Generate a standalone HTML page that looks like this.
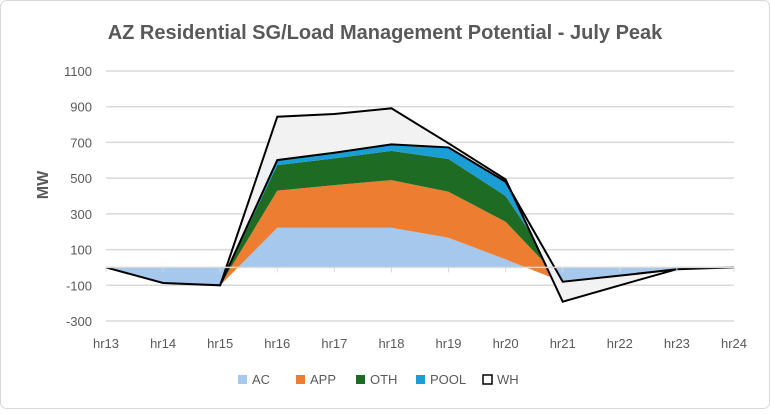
<!DOCTYPE html>
<html><head><meta charset="utf-8"><style>
body{margin:0;background:#fff;font-family:"Liberation Sans",sans-serif}
</style></head><body>
<svg id="chart" width="770" height="409" xmlns="http://www.w3.org/2000/svg" font-family="Liberation Sans, sans-serif">
<rect x="0.5" y="0.5" width="769" height="408" rx="6" fill="#fff" stroke="#d9d9d9"/>
<text x="385" y="39" text-anchor="middle" font-size="20" font-weight="bold" fill="#595959">AZ Residential SG/Load Management Potential - July Peak</text>
<text transform="translate(48,185) rotate(-90)" text-anchor="middle" font-size="16" font-weight="bold" fill="#595959">MW</text>
<g id="grid"></g><g id="areas"></g><g id="axes"></g><g id="legend"></g>
</svg>
<script>
const categories=["hr13","hr14","hr15","hr16","hr17","hr18","hr19","hr20","hr21","hr22","hr23","hr24"];
const AC=[0,-87,-100,222,222,222,166,45,-80,-46,-10,0];
const APP=[0,0,0,208,239,267,258,211,0,0,0,0];
const OTH=[0,0,0,143,150,164,183,144,0,0,0,0];
const POOL=[0,0,0,28,31,36,65,80,0,0,0,0];
const WH=[0,0,0,243,217,202,23,13,-112,-54,0,0];
const yTicks=[1100,900,700,500,300,100,-100,-300];
const NS="http://www.w3.org/2000/svg";
const x0=106,x1=734,yTop=71,yBot=321,vMax=1100,vMin=-300;
const xs=i=>x0+i*(x1-x0)/(categories.length-1);
const ys=v=>yTop+(vMax-v)*(yBot-yTop)/(vMax-vMin);
function mk(tag,attrs,parent){const e=document.createElementNS(NS,tag);for(const k in attrs)e.setAttribute(k,attrs[k]);parent.appendChild(e);return e;}
const grid=document.getElementById('grid'),areas=document.getElementById('areas'),axes=document.getElementById('axes'),legend=document.getElementById('legend');
yTicks.forEach(t=>{
 const l=mk('line',{x1:x0,x2:x1,y1:ys(t),y2:ys(t),stroke:'#d9d9d9','stroke-width':1.5},grid);
 
 
 const tx=mk('text',{x:92,y:ys(t)+5,'text-anchor':'end','font-size':13,fill:'#595959'},axes);
 tx.textContent=t;
 
 
});
const series=[["AC",AC,"#a5c8ec","none"],["APP",APP,"#ed7d31","none"],["OTH",OTH,"#1e6b24","none"],["POOL",POOL,"#1b9dd6","none"],["WH",WH,"#f2f2f2","#000"]];
let base=categories.map(()=>0);
series.forEach(([name,vals,fill,stroke])=>{
 const top=base.map((b,i)=>b+vals[i]);
 let pts=top.map((v,i)=>xs(i)+','+ys(v));
 for(let i=base.length-1;i>=0;i--)pts.push(xs(i)+','+ys(base[i]));
 const p=mk('polygon',{points:pts.join(' '),fill:fill,stroke:stroke,'stroke-width':2,'stroke-linejoin':'miter'},areas);
 
 
 base=top;
});
const ax=mk('line',{x1:x0,x2:x1,y1:ys(0),y2:ys(0),stroke:'#d9d9d9','stroke-width':1.5},axes);


categories.forEach((c,i)=>{
 const tk=mk('line',{x1:xs(i),x2:xs(i),y1:ys(0),y2:ys(0)+5,stroke:'#d9d9d9','stroke-width':1},axes);
 
 
 const t=mk('text',{x:xs(i),y:348,'text-anchor':'middle','font-size':13,fill:'#595959'},axes);
 t.textContent=c;
 
 
});
const lx=[238,296,356,416,483];
series.forEach(([name,vals,fill,stroke],i)=>{
 const g=mk('g',{},legend);
 
 
 mk('rect',{x:lx[i],y:375,width:9,height:9,fill:name==='WH'?'#fff':fill,stroke:name==='WH'?'#000':'none','stroke-width':1.5},g);
 const t=mk('text',{x:lx[i]+14,y:384,'font-size':13,fill:'#595959'},g);
 t.textContent=name;
});
</script>
</body></html>
